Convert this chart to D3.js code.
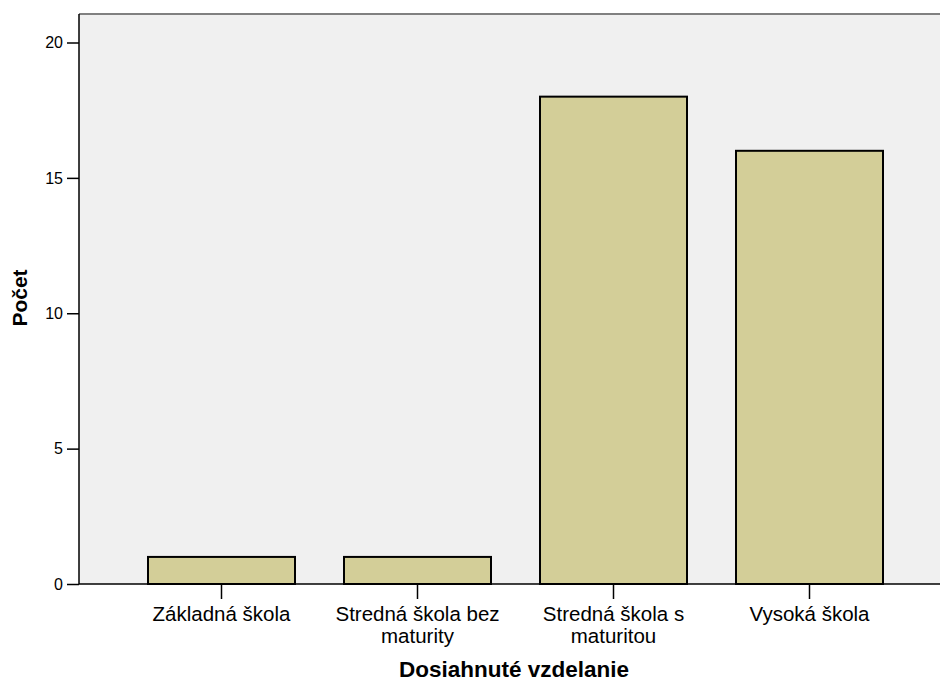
<!DOCTYPE html>
<html>
<head>
<meta charset="utf-8">
<script src="https://cdn.jsdelivr.net/npm/d3@7"></script>
<style>
  body { margin: 0; background: #fff; }
  svg text { font-family: Arial, "Liberation Sans", sans-serif; fill: #000; }
</style>
</head>
<body>
<div id="chart"></div>
<script>
// Data
const categories = ["Základná škola", "Stredná škola bez maturity", "Stredná škola s maturitou", "Vysoká škola"];
const counts = [1, 1, 18, 16];
const yTicks = [0, 5, 10, 15, 20];
const xTitle = "Dosiahnuté vzdelanie";
const yTitle = "Počet";

const W = 940, H = 682;
const plot = {left: 79, top: 14, right: 940, bottom: 584};

const svg = d3.select("#chart").append("svg")
    .attr("width", W)
    .attr("height", H);

// plot background
svg.append("rect")
    .attr("x", plot.left).attr("y", plot.top)
    .attr("width", plot.right - plot.left)
    .attr("height", plot.bottom - plot.top)
    .attr("fill", "#f0f0f0");

// top border
svg.append("line")
    .attr("x1", plot.left).attr("x2", plot.right)
    .attr("y1", plot.top).attr("y2", plot.top)
    .attr("stroke", "#808080").attr("stroke-width", 2);

const x = d3.scaleBand()
    .domain(categories)
    .range([123.5, 907.5])
    .paddingInner(0.25)
    .paddingOuter(0.125);

const y = d3.scaleLinear()
    .domain([0, 20])
    .range([plot.bottom, 42.5]);

// bars
svg.append("g")
  .selectAll("rect")
  .data(counts)
  .enter()
  .append("rect")
    .attr("x", (d, i) => x(categories[i]))
    .attr("y", d => y(d))
    .attr("width", x.bandwidth())
    .attr("height", d => y(0) - y(d))
    .attr("fill", "#d3ce98")
    .attr("stroke", "#000")
    .attr("stroke-width", 2);

// y axis
const yAxis = svg.append("g")
    .attr("transform", "translate(" + plot.left + ",0)")
    .call(d3.axisLeft(y).tickValues(yTicks).tickSize(12).tickPadding(4).tickSizeOuter(0));
yAxis.select(".domain").attr("stroke", "#000").attr("stroke-width", 1.5)
    .attr("d", "M0," + plot.top + "V" + plot.bottom);
yAxis.selectAll(".tick line").attr("stroke", "#000").attr("stroke-width", 1.5);
yAxis.selectAll(".tick text")
    .style("font-size", "16px")
    .style("font-family", "Arial, 'Liberation Sans', sans-serif");

// x axis
const xAxis = svg.append("g")
    .attr("transform", "translate(0," + plot.bottom + ")")
    .call(d3.axisBottom(x).tickSize(15).tickPadding(7).tickSizeOuter(0));
xAxis.select(".domain").attr("stroke", "#000").attr("stroke-width", 1.5)
    .attr("d", "M" + plot.left + ",0H" + plot.right);
xAxis.selectAll(".tick line").attr("stroke", "#000").attr("stroke-width", 1.5);
xAxis.selectAll(".tick text")
    .style("font-size", "20.5px")
    .style("font-family", "Arial, 'Liberation Sans', sans-serif")
    .call(wrap, 185);

function wrap(sel, width) {
  sel.each(function() {
    const text = d3.select(this);
    const words = text.text().split(/\s+/);
    const yy = text.attr("y");
    const dy = parseFloat(text.attr("dy"));
    text.text(null);
    let line = [];
    let lineNo = 0;
    let tspan = text.append("tspan").attr("x", 0).attr("y", yy).attr("dy", dy + "em");
    words.forEach(w => {
      line.push(w);
      tspan.text(line.join(" "));
      if (tspan.node().getComputedTextLength() > width && line.length > 1) {
        line.pop();
        tspan.text(line.join(" "));
        line = [w];
        lineNo++;
        tspan = text.append("tspan").attr("x", 0).attr("y", yy)
            .attr("dy", (lineNo * 1.1 + dy) + "em").text(w);
      }
    });
  });
}

// axis titles
svg.append("text")
    .attr("x", 514)
    .attr("y", 677)
    .attr("text-anchor", "middle")
    .style("font-size", "22.5px")
    .style("font-weight", "bold")
    .text(xTitle);

svg.append("text")
    .attr("transform", "translate(27," + 298 + ") rotate(-90)")
    .attr("text-anchor", "middle")
    .style("font-size", "21px")
    .style("font-weight", "bold")
    .text(yTitle);
</script>
</body>
</html>
